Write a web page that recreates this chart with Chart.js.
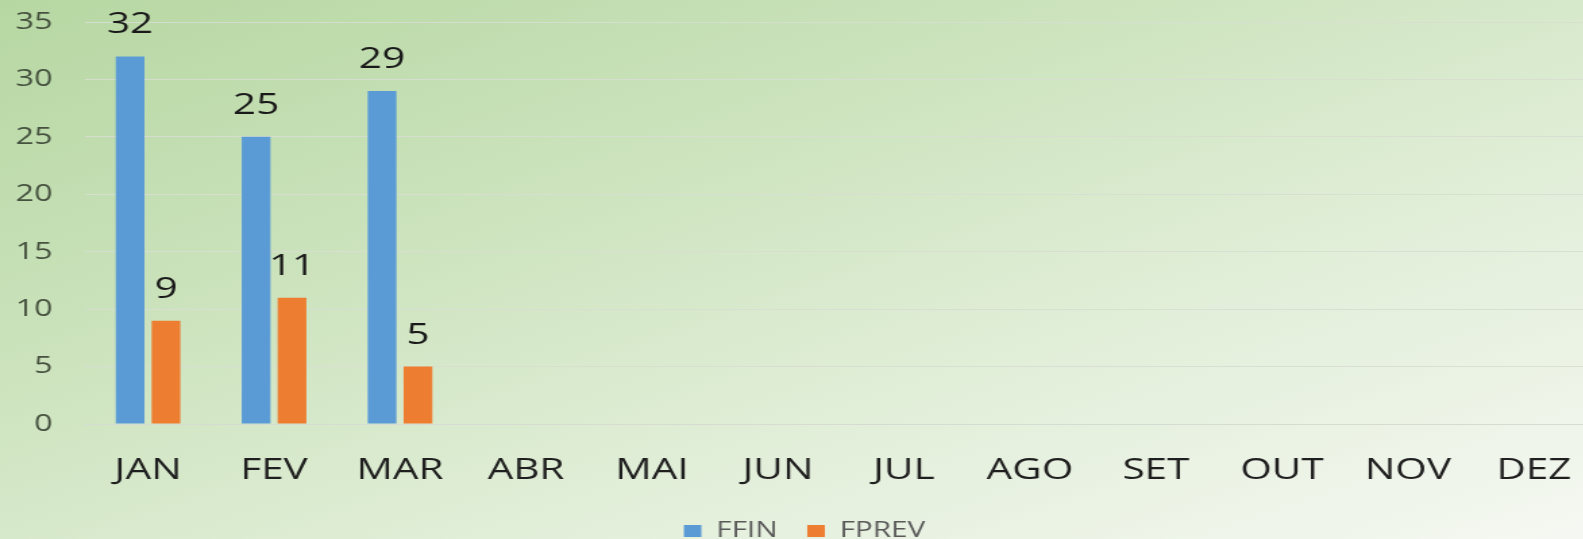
<!DOCTYPE html>
<html>
<head>
<meta charset="utf-8">
<script src="https://cdn.jsdelivr.net/npm/chart.js@4/dist/chart.umd.min.js"></script>
<style>
html,body{margin:0;padding:0;width:1583px;height:539px;overflow:hidden;}
body{background:linear-gradient(to bottom right,#b6d7a2 0%,#cce3bd 35%,#e1eed8 65%,#f5f8f2 100%);}
#wrap{position:absolute;left:0;top:0;width:1192px;height:552px;transform:scaleX(1.35);transform-origin:0 0;}
</style>
</head>
<body>
<div id="wrap"><canvas id="c"></canvas></div>
<script>
const categories = ['JAN','FEV','MAR','ABR','MAI','JUN','JUL','AGO','SET','OUT','NOV','DEZ'];
const ffin  = [32, 25, 29, null, null, null, null, null, null, null, null, null];
const fprev = [9, 11, 5, null, null, null, null, null, null, null, null, null];
const seriesNames = ['FFIN', 'FPREV'];
const yTicks = [0, 5, 10, 15, 20, 25, 30, 35];

const valueLabels = {
  id: 'valueLabels',
  afterDatasetsDraw(chart) {
    const ctx = chart.ctx;
    ctx.save();
    ctx.font = '30px "Open Sans"';
    ctx.fillStyle = '#1a1a1a';
    ctx.textAlign = 'center';
    ctx.textBaseline = 'alphabetic';
    chart.data.datasets.forEach((ds, i) => {
      const meta = chart.getDatasetMeta(i);
      meta.data.forEach((el, j) => {
        const v = ds.data[j];
        if (v === null || v === undefined) return;
        ctx.fillText(String(v), el.x, el.y - 23);
      });
    });
    ctx.restore();
  }
};

new Chart(document.getElementById('c'), {
  type: 'bar',
  data: {
    labels: categories,
    datasets: [
      { label: seriesNames[0], data: ffin, backgroundColor: '#5b9bd5', categoryPercentage: 0.57, barPercentage: 0.8 },
      { label: seriesNames[1], data: fprev, backgroundColor: '#ed7d31', categoryPercentage: 0.57, barPercentage: 0.8 }
    ]
  },
  options: {
    responsive: true,
    maintainAspectRatio: false,
    animation: false,
    layout: { padding: { top: 22, left: 0, right: 0, bottom: 0 } },
    plugins: {
      legend: {
        position: 'bottom',
        labels: { font: { family: 'Open Sans', size: 22 }, color: '#595959', boxWidth: 13, boxHeight: 12, padding: 22 }
      },
      tooltip: { enabled: false }
    },
    scales: {
      x: {
        grid: { display: false, drawTicks: false },
        border: { display: true, color: 'rgba(215,220,210,0.9)' },
        ticks: { font: { family: 'Open Sans', size: 30 }, color: '#1f1f1f', padding: 28, maxRotation: 0, autoSkip: false },
        afterFit(scale) { scale.height = 74; }
      },
      y: {
        min: 0, max: 35,
        afterBuildTicks(scale) { scale.ticks = yTicks.map(v => ({ value: v })); },
        grid: { color: 'rgba(215,222,210,0.9)', drawTicks: false },
        border: { display: false },
        ticks: { font: { family: 'Open Sans', size: 24 }, color: '#46523f', padding: 24 },
        afterFit(scale) { scale.width = 63; scale.paddingTop = 0; scale.paddingBottom = 0; }
      }
    }
  },
  plugins: [valueLabels]
});
</script>
</body>
</html>
